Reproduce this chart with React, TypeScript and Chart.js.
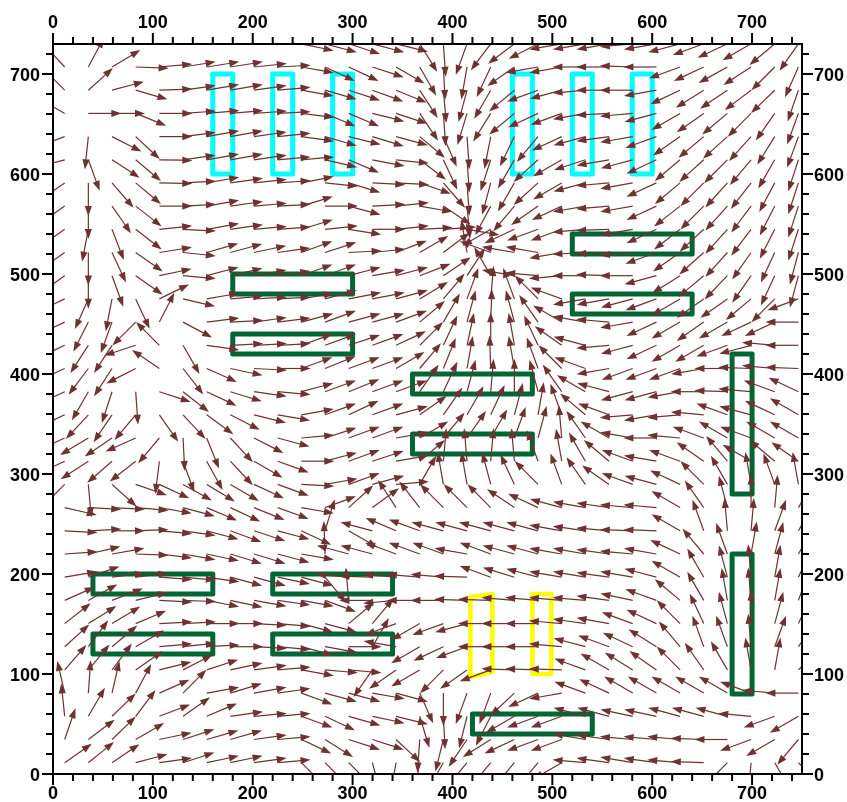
import React, { useEffect, useRef } from 'react';
import { Chart, registerables } from 'chart.js';

Chart.register(...registerables);

// ---------- axis data ----------
const X_TICK_LABELS = [0, 100, 200, 300, 400, 500, 600, 700];
const Y_TICK_LABELS = [0, 100, 200, 300, 400, 500, 600, 700];
const X_RANGE = [0, 750];
const Y_RANGE = [0, 730];

// ---------- vector field grid (data units) ----------
const GRID_X = [11.7, 35.4, 59.1, 82.8, 106.5, 130.2, 153.9, 177.6, 201.3, 225.0, 248.7, 272.4, 296.1, 319.8, 343.5, 367.2,
  390.9, 414.6, 438.3, 462.0, 485.7, 509.4, 533.1, 556.8, 580.5, 604.2, 627.9, 651.6, 675.3, 699.0, 722.7, 746.4];
// rows listed from top to bottom
const GRID_Y = [730.2, 707.0, 683.8, 660.6, 637.4, 614.2, 591.1, 567.9, 544.7, 521.5, 498.3, 475.1, 451.9, 428.7, 405.5, 382.3,
  359.2, 336.0, 312.8, 289.6, 266.4, 243.2, 220.0, 196.8, 173.6, 150.4, 127.3, 104.1, 80.9, 57.7, 34.5, 11.3];
// arrow direction in degrees (0 = +x, 90 = +y), one row per GRID_Y entry, one column per GRID_X entry
const ARROW_ANGLES = [
  [120, 80, 45, 20, 10, 10, 10, 10, 5, 5, -12, -15, -18, -15, -14, -58, -86, -110, -127, -143, -153, 190, 190, 190, 185, 190, 195, 200, 205, 210, 220, 235],
  [133, 62, 31, -2, 5, 9, 9, 9, 6, 3, -10, -25, -25, -18, -30, -60, -87, -100, -115, -145, -170, 190, 180, 180, 178, 180, 200, 205, 209, 213, 225, 246],
  [135, 42, 15, -16, 2, 8, 10, 10, 8, 5, -10, -16, -18, -20, -22, -57, -85, -105, -120, -140, -160, 195, 185, 180, 180, 190, 205, 212, 214, 217, 224, 251],
  [150, 0, 0, -22, 0, 4, 5, 5, 4, 3, -7, -23, -23, -14, -18, -56, -86, -107, -122, -140, -155, 200, 190, 183, 185, 195, 210, 215, 220, 225, 235, 250],
  [200, -96, -27, -43, 0, 7, 10, 10, 8, 6, -8, -16, -14, -17, -15, -40, -66, -86, -101, -116, -130, 205, 195, 188, 190, 200, 215, 220, 222, 228, 238, 250],
  [195, -70, -33, -40, -1, 8, 10, 10, 8, 5, 5, -13, -23, -11, -6, -37, -65, -86, -108, -120, -138, 210, 198, 190, 195, 205, 220, 222, 225, 230, 240, 252],
  [215, -90, -49, -40, -1, 3, 10, 8, 6, 4, 11, -6, -17, -3, -3, -19, -49, -86, -105, -120, -138, 210, 195, 185, 190, 205, 220, 225, 228, 232, 242, 252],
  [215, -90, -55, -38, 0, 3, 10, 8, 5, 3, 17, 0, -15, 3, 6, -10, -34, -85, -118, -130, -145, 205, 190, 185, 190, 205, 218, 225, 228, 233, 243, 252],
  [215, -101, -69, -38, 6, -3, 10, 8, 5, 4, 17, 6, -9, 0, 6, 3, 4, -10, -150, -155, -160, 200, 185, 182, 190, 205, 218, 223, 228, 233, 243, 252],
  [215, -90, -65, -35, 9, -6, 16, 15, 12, 8, 20, 18, 3, 6, 21, 30, 37, 100, 160, 170, 170, 190, 183, 182, 185, 200, 215, 222, 228, 235, 245, 255],
  [215, -90, -70, -35, 12, -5, 15, 13, 10, 8, 20, 20, 15, 10, 15, 21, 34, 57, 120, 170, 175, 185, 180, 178, 180, 195, 212, 220, 226, 235, 245, 255],
  [205, -114, -101, -65, 26, -13, 10, 5, 3, 3, 10, 15, 11, 11, 15, 31, 50, 70, 85, 110, 135, 160, 190, 190, 195, 200, 210, 215, 215, 220, 225, 200],
  [205, -117, -110, -135, 63, -28, 7, 3, 8, 7, 15, 20, 15, 15, 20, 40, 60, 75, 88, 105, 125, 150, 170, 175, 190, 205, 210, 215, 210, 205, 205, 180],
  [205, -123, -123, -162, 135, -60, -8, 3, 3, 3, 20, 20, 18, 20, 25, 45, 65, 78, 90, 100, 115, 145, 165, 185, 195, 205, 210, 210, 200, 195, 175, 180],
  [205, -127, -123, -153, 146, -52, -24, -12, -3, 0, 20, 22, 20, 20, 30, 50, 68, 80, 92, 100, 110, 135, 160, 190, 200, 200, 200, 190, 180, 178, 175, 178],
  [205, -120, -108, -86, -18, -38, -25, -17, -8, -5, 15, 20, 22, 20, 20, 55, 65, 75, 85, 90, 105, 125, 150, 165, 195, 195, 190, 180, 178, 175, 160, 155],
  [205, -133, -124, -130, -55, -47, -36, -27, -14, -10, 10, 20, 25, 20, 15, 35, 55, 60, 65, 75, 80, 110, 140, 160, 185, 190, 185, 175, 160, 165, 155, 150],
  [205, -149, -146, -156, -130, -87, -68, -47, -27, -15, 5, 18, 20, 20, 10, 30, 50, 55, 60, 70, 75, 95, 125, 150, 170, 180, 175, 160, 150, 160, 150, 150],
  [205, -147, -139, -142, -97, -70, -61, -47, -30, -20, 0, 15, 20, 18, 10, 40, 85, 95, 85, 95, 110, 100, 120, 140, 160, 170, 160, 145, 130, 150, 140, 145],
  [225, -85, -42, -19, -25, -29, -31, -30, -25, -20, -3, 10, 20, 15, 5, 60, 100, 100, 105, 115, 135, 110, 125, 145, 160, 165, 155, 135, 120, 100, 110, 100],
  [-13, -3, -3, -5, -10, -15, -23, -25, -22, -20, -10, 20, 42, 36, 123, 128, 135, 135, 135, 146, 155, 165, 170, 172, 175, 175, 150, 125, 105, 90, 85, 60],
  [-3, 3, 0, 2, -5, -8, -15, -20, -18, -15, -25, 73, -30, 165, 157, 160, 165, 165, 165, 165, 165, 170, 172, 175, 178, 178, 150, 110, 95, 85, 70, 60],
  [4, 13, 10, -2, -7, -10, -12, -17, -17, -15, -10, 92, 165, 165, 160, 160, 160, 170, 160, 165, 165, 170, 170, 172, 175, 170, 155, 130, 110, 80, 75, 60],
  [10, 19, 7, 7, -4, -5, -8, -15, -15, -12, -15, -50, 175, 178, 175, 175, 175, 178, 160, 163, 165, 170, 170, 172, 170, 165, 150, 120, 105, 95, 80, 65],
  [24, 29, 21, 14, -3, -2, -11, -12, -10, -8, -10, -20, 95, 180, 185, 180, 180, 178, 178, 175, 175, 175, 175, 172, 168, 160, 140, 120, 100, 95, 80, 70],
  [38, 32, 31, 23, 3, 3, 0, 0, -3, -5, -15, -15, 40, 50, 200, 210, 200, 195, 180, 180, 180, 175, 172, 170, 160, 155, 135, 115, 105, 90, 75, 65],
  [42, 53, 40, 30, 5, 6, 3, 0, -3, -5, -15, -10, 0, 60, 170, 210, 205, 200, 180, 180, 180, 175, 165, 160, 155, 148, 130, 110, 110, 95, 70, 55],
  [49, 50, 53, 35, 14, 27, 18, 12, 8, 5, -10, -5, -5, 235, 215, 210, 225, 215, 200, 178, 178, 178, 160, 150, 148, 145, 135, 125, 120, 100, 80, 45],
  [103, 86, 77, 62, 24, 45, 10, 17, 10, 8, -20, -15, -15, -10, -15, -66, -90, -110, -110, -137, -155, 190, 160, 155, 150, 150, 150, 150, 150, 160, 175, 180],
  [96, 60, 44, 53, 21, 35, 23, 8, 5, 5, -20, -25, -16, -12, -14, -73, -87, -104, -117, -150, -160, 200, 165, 165, 168, 168, 165, 165, 165, 175, 200, 210],
  [71, 37, 44, 30, 12, 18, 16, 16, 8, 5, -25, -32, -18, -18, -43, -94, -104, -124, -148, -155, -160, 200, 170, 172, 175, 175, 175, 178, 180, 200, 210, 230],
  [35, 39, 34, 15, 8, 18, 12, 12, 8, 5, -45, -45, -45, -75, -100, -100, -120, -130, -130, -130, -130, 210, 175, 172, 170, 172, 175, 178, 225, 265, 300, 315],
];
const ARROW_LENGTH = 33; // data units

// ---------- outlined regions ----------
// [x0, x1, y0, y1]
const CYAN_RECTS = [
  [160, 180, 600, 700], [220, 240, 600, 700], [280, 300, 600, 700],
  [460, 480, 600, 700], [520, 540, 600, 700], [580, 600, 600, 700],
];
const GREEN_RECTS = [
  [180, 300, 480, 500], [180, 300, 420, 440],
  [360, 480, 380, 400], [360, 480, 320, 340],
  [520, 640, 520, 540], [520, 640, 460, 480],
  [680, 700, 280, 420], [680, 700, 80, 220],
  [40, 160, 180, 200], [40, 160, 120, 140],
  [220, 340, 180, 200], [220, 340, 120, 140],
  [420, 540, 40, 60],
];
const YELLOW_POLYS = [
  [[418, 97], [418, 177], [440, 180], [440, 102]],
  [[480, 100], [480, 180], [499, 180], [499, 100]],
];

const ARROW_COLOR = '#6e3232';
const FONT = 'bold 18px "Liberation Sans", Arial, sans-serif';

const drawPlugin = {
  id: 'quiverDraw',
  afterDraw(chart: any) {
    const { ctx, chartArea: a, scales } = chart;
    const xs = scales.x;
    const ys = scales.y;
    const px = (v: number) => xs.getPixelForValue(v);
    const py = (v: number) => ys.getPixelForValue(v);

    ctx.save();
    ctx.beginPath();
    ctx.rect(a.left, a.top, a.right - a.left, a.bottom - a.top);
    ctx.clip();

    // outlined regions
    ctx.lineJoin = 'round';
    ctx.lineCap = 'round';
    const strokeRect = (r: number[], color: string, w: number) => {
      ctx.strokeStyle = color;
      ctx.lineWidth = w;
      ctx.beginPath();
      ctx.moveTo(px(r[0]), py(r[2]));
      ctx.lineTo(px(r[1]), py(r[2]));
      ctx.lineTo(px(r[1]), py(r[3]));
      ctx.lineTo(px(r[0]), py(r[3]));
      ctx.closePath();
      ctx.stroke();
    };
    CYAN_RECTS.forEach((r) => strokeRect(r, '#00ffff', 5));
    GREEN_RECTS.forEach((r) => strokeRect(r, '#006633', 5));
    YELLOW_POLYS.forEach((poly) => {
      ctx.strokeStyle = '#ffff00';
      ctx.lineWidth = 4.5;
      ctx.beginPath();
      poly.forEach((p, i) => (i === 0 ? ctx.moveTo(px(p[0]), py(p[1])) : ctx.lineTo(px(p[0]), py(p[1]))));
      ctx.closePath();
      ctx.stroke();
    });

    // arrows
    ctx.strokeStyle = ARROW_COLOR;
    ctx.fillStyle = ARROW_COLOR;
    ctx.lineWidth = 1.2;
    ctx.lineCap = 'butt';
    const headLen = 10;
    const headHalf = 3.6;
    GRID_Y.forEach((gy, j) => {
      const row = ARROW_ANGLES[j] || [];
      GRID_X.forEach((gx, k) => {
        const ang = row[k];
        if (ang === undefined) return;
        const t = (ang * Math.PI) / 180;
        const x0 = px(gx);
        const y0 = py(gy);
        const x1 = px(gx + ARROW_LENGTH * Math.cos(t));
        const y1 = py(gy + ARROW_LENGTH * Math.sin(t));
        const dx = x1 - x0;
        const dy = y1 - y0;
        const len = Math.hypot(dx, dy) || 1;
        const ux = dx / len;
        const uy = dy / len;
        const bx = x1 - ux * headLen;
        const by = y1 - uy * headLen;
        ctx.beginPath();
        ctx.moveTo(x0, y0);
        ctx.lineTo(bx + ux * 1, by + uy * 1);
        ctx.stroke();
        ctx.beginPath();
        ctx.moveTo(x1, y1);
        ctx.lineTo(bx - uy * headHalf, by + ux * headHalf);
        ctx.lineTo(bx + uy * headHalf, by - ux * headHalf);
        ctx.closePath();
        ctx.fill();
      });
    });
    ctx.restore();

    // axes frame
    ctx.save();
    ctx.strokeStyle = '#000';
    ctx.lineWidth = 2;
    ctx.strokeRect(a.left, a.top, a.right - a.left, a.bottom - a.top);

    // ticks
    const majorLen = 11;
    const minorLen = 7;
    ctx.lineWidth = 2;
    ctx.beginPath();
    for (let v = 0; v <= 740; v += 20) {
      const L = v % 100 === 0 ? majorLen : minorLen;
      const X = px(v);
      ctx.moveTo(X, a.bottom);
      ctx.lineTo(X, a.bottom + L);
      ctx.moveTo(X, a.top);
      ctx.lineTo(X, a.top - L);
    }
    for (let v = 0; v <= 720; v += 20) {
      const L = v % 100 === 0 ? majorLen : minorLen;
      const Y = py(v);
      ctx.moveTo(a.left, Y);
      ctx.lineTo(a.left - L, Y);
      ctx.moveTo(a.right, Y);
      ctx.lineTo(a.right + L, Y);
    }
    ctx.stroke();

    // labels
    ctx.fillStyle = '#000';
    ctx.font = FONT;
    ctx.textBaseline = 'alphabetic';
    ctx.textAlign = 'center';
    X_TICK_LABELS.forEach((v) => {
      ctx.fillText(String(v), px(v), a.bottom + 25);
      ctx.fillText(String(v), px(v), a.top - 16);
    });
    Y_TICK_LABELS.forEach((v) => {
      ctx.textAlign = 'right';
      ctx.fillText(String(v), a.left - 13, py(v) + 6.5);
      ctx.textAlign = 'left';
      ctx.fillText(String(v), a.right + 12, py(v) + 6.5);
    });
    ctx.restore();
  },
};

export default function App() {
  const canvasRef = useRef<HTMLCanvasElement | null>(null);

  useEffect(() => {
    const canvas = canvasRef.current;
    if (!canvas) return;
    const chart = new Chart(canvas, {
      type: 'scatter',
      data: { datasets: [{ data: [] }] },
      options: {
        animation: false,
        responsive: false,
        devicePixelRatio: 1,
        layout: { padding: { left: 53, top: 44, right: 45, bottom: 28 } },
        plugins: { legend: { display: false }, tooltip: { enabled: false } },
        scales: {
          x: { type: 'linear', min: X_RANGE[0], max: X_RANGE[1], display: false },
          y: { type: 'linear', min: Y_RANGE[0], max: Y_RANGE[1], display: false },
        },
      },
      plugins: [drawPlugin],
    });
    return () => chart.destroy();
  }, []);

  return (
    <div style={{ position: 'fixed', left: 0, top: 0, width: 847, height: 802, background: '#fff' }}>
      <canvas ref={canvasRef} width={847} height={802} style={{ display: 'block' }} />
    </div>
  );
}
